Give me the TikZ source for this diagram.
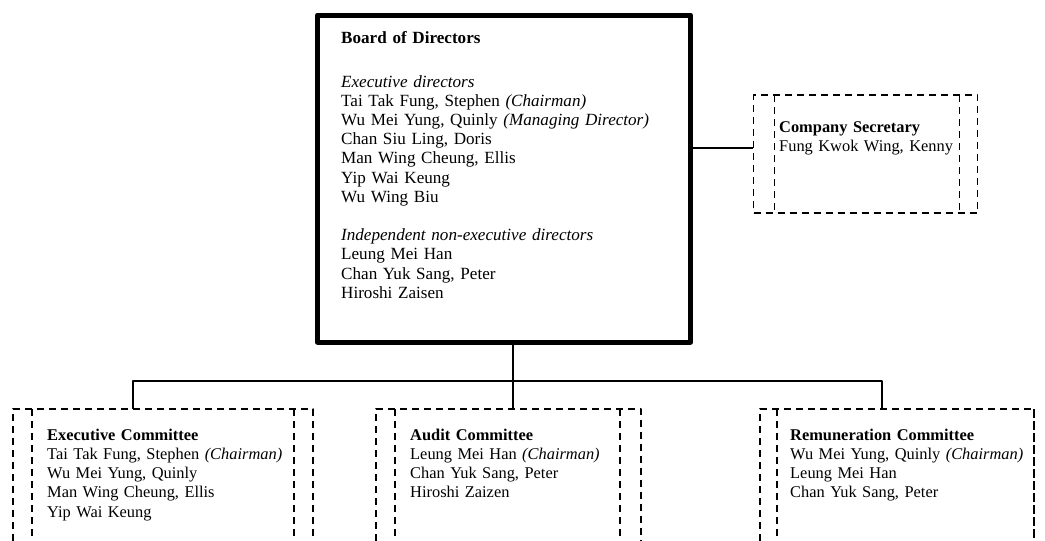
\documentclass[tikz,border=0pt]{standalone}
\usepackage{fontspec}
\setmainfont{Liberation Serif}
\begin{document}
\begin{tikzpicture}[x=1pt,y=-1pt,line join=round,
	txt/.style={anchor=base west,inner sep=0pt,align=left,text width=#1,font=\fontsize{17.1}{19.2}\selectfont},
	txt/.default=300pt,
	small/.style={font=\fontsize{16.4}{19.3}\selectfont},
	frame/.style={draw,line width=5pt,inner sep=0pt,outer sep=0pt,anchor=north west},
	dashbox/.style={line width=1.1pt,dash pattern=on 7pt off 5pt},
	link/.style={line width=1.3pt}]
	\useasboundingbox (0,0) rectangle (1045,541);
	\path
	(513,381) coordinate (split)
	(753,148) coordinate (seclink)
	;
	% board and secretary
	\node[frame,minimum width=373pt,minimum height=327pt] (frame) at (317.5,15) {};
	\node[draw,dashbox,inner sep=0pt,outer sep=0pt,anchor=north west,
		minimum width=224pt,minimum height=118pt] (secbox) at (753.5,95) {};
	\draw[dashbox] (secbox.north west) ++(21,0) -- ++(0,118)
		(secbox.north east) ++(-18,0) -- ++(0,118);
	\draw[link] (frame.east |- seclink) -- (seclink);
	\draw[link] (frame.south -| split) -- (split);
	% committees
	\foreach \nm/\xa/\xb/\xc/\xd/\xm in
	{exec/13/32/294/313/133,audit/376/395/620/641/513,remun/760/777/1034/1034/882}
	{
		\coordinate (\nm top) at (\xm,409);
		\draw[dashbox] (\xa,541) -- (\xa,409) -- (\xd,409) -- (\xd,541)
			(\xb,409) -- (\xb,541) (\xc,409) -- (\xc,541);
		\draw[link] (split) -- (split -| \nm top) -- (\nm top);
	}
	\node[txt=340pt] (boardtxt) at (341,43) {\textbf{Board of Directors}\\[24.8pt]
		\textit{Executive directors}\\
		Tai Tak Fung, Stephen \textit{(Chairman)}\\
		Wu Mei Yung, Quinly \textit{(Managing Director)}\\
		Chan Siu Ling, Doris\\
		Man Wing Cheung, Ellis\\
		Yip Wai Keung\\
		Wu Wing Biu\\[19.2pt]
		\textit{Independent non-executive directors}\\
		Leung Mei Han\\
		Chan Yuk Sang, Peter\\
		Hiroshi Zaisen};
	\node[txt=190pt,small] (sectxt) at (779,132) {\textbf{Company Secretary}\\
		Fung Kwok Wing, Kenny};
	\node[txt,small] (exectxt) at (47,440) {\textbf{Executive Committee}\\
		Tai Tak Fung, Stephen \textit{(Chairman)}\\
		Wu Mei Yung, Quinly\\
		Man Wing Cheung, Ellis\\
		Yip Wai Keung};
	\node[txt,small] (audittxt) at (410,440) {\textbf{Audit Committee}\\
		Leung Mei Han \textit{(Chairman)}\\
		Chan Yuk Sang, Peter\\
		Hiroshi Zaizen};
	\node[txt=250pt,small] (remuntxt) at (790,440) {\textbf{Remuneration Committee}\\
		Wu Mei Yung, Quinly \textit{(Chairman)}\\
		Leung Mei Han\\
		Chan Yuk Sang, Peter};
\end{tikzpicture}
\end{document}
